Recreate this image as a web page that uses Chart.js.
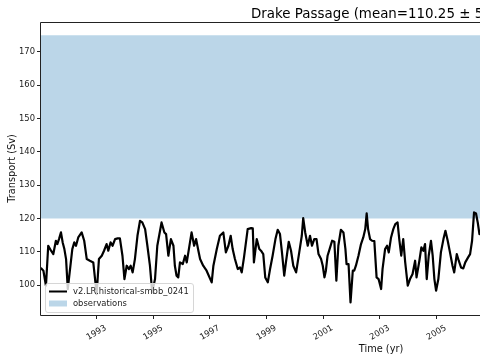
<!DOCTYPE html>
<html>
<head>
<meta charset="utf-8">
<script src="https://cdn.jsdelivr.net/npm/chart.js@4.4.0/dist/chart.umd.min.js"></script>
<style>
html,body{margin:0;padding:0;background:#fff;overflow:hidden;}
canvas{display:block;}
</style>
</head>
<body>
<canvas id="c" width="480" height="360"></canvas>
<script>
// ---- data ----
const years = [1991.04,1991.12,1991.21,1991.29,1991.39,1991.47,1991.56,1991.61,1991.67,1991.74,1991.80,1991.86,1991.92,1991.98,
1992.06,1992.14,1992.21,1992.27,1992.35,1992.47,1992.56,1992.65,1992.76,1992.88,1993.00,1993.08,1993.18,1993.26,1993.35,1993.41,
1993.49,1993.56,1993.65,1993.74,1993.82,1993.91,1993.98,1994.06,1994.14,1994.20,1994.27,1994.35,1994.44,1994.53,1994.61,1994.71,
1994.79,1994.88,1994.96,1995.06,1995.14,1995.29,1995.39,1995.45,1995.53,1995.62,1995.71,1995.76,1995.82,1995.88,1995.94,1996.04,
1996.12,1996.18,1996.35,1996.44,1996.51,1996.59,1996.65,1996.76,1996.88,1997.06,1997.12,1997.24,1997.35,1997.47,1997.56,1997.65,
1997.73,1997.80,1997.88,1997.98,1998.06,1998.12,1998.20,1998.33,1998.45,1998.51,1998.55,1998.65,1998.74,1998.80,1998.88,1998.95,
1999.04,1999.12,1999.21,1999.31,1999.39,1999.47,1999.54,1999.62,1999.68,1999.78,1999.86,1999.94,2000.04,2000.15,2000.24,2000.29,
2000.36,2000.45,2000.53,2000.60,2000.68,2000.76,2000.83,2000.92,2000.98,2001.04,2001.09,2001.15,2001.24,2001.31,2001.39,2001.46,
2001.53,2001.62,2001.71,2001.78,2001.82,2001.89,2001.96,2002.04,2002.09,2002.15,2002.24,2002.33,2002.41,2002.48,2002.53,2002.58,
2002.65,2002.72,2002.80,2002.88,2002.95,2003.04,2003.09,2003.18,2003.25,2003.31,2003.39,2003.47,2003.54,2003.62,2003.68,2003.75,
2003.82,2003.89,2003.98,2004.06,2004.15,2004.24,2004.29,2004.39,2004.46,2004.53,2004.59,2004.65,2004.72,2004.80,2004.86,2004.92,
2004.98,2005.06,2005.15,2005.24,2005.31,2005.39,2005.47,2005.56,2005.62,2005.71,2005.78,2005.86,2005.94,2006.01,2006.11,2006.18,
2006.25,2006.32,2006.39,2006.45,2006.51];
const transport = [105.0,104.3,99.8,111.8,110.3,109.3,113.3,112.3,113.8,115.8,112.8,110.8,107.8,98.8,
104.8,110.8,112.8,111.8,114.3,115.8,113.3,107.8,107.3,106.8,97.3,107.8,108.8,110.3,112.3,110.3,
112.8,111.8,113.8,114.0,114.0,108.8,101.8,105.8,104.8,105.8,103.8,107.8,114.8,119.3,118.8,116.8,
111.8,105.8,97.8,101.8,111.8,118.8,115.8,115.3,108.8,113.8,111.8,105.8,102.8,102.3,106.8,106.3,
108.8,106.8,115.8,111.8,113.8,110.3,107.8,105.8,104.3,100.8,105.8,110.8,114.8,115.8,109.8,111.8,
114.8,110.8,107.8,104.8,105.3,103.8,108.3,116.8,117.1,117.0,106.8,113.8,110.8,110.3,109.3,102.3,
100.8,104.8,108.8,113.8,116.6,115.3,109.8,102.8,106.8,113.0,110.3,105.8,103.8,109.8,114.8,120.1,
115.8,111.8,114.8,111.8,113.8,113.8,109.3,107.8,105.8,102.3,104.3,108.8,111.3,113.3,113.0,101.3,
111.8,116.6,115.8,110.8,106.3,106.3,94.8,104.3,104.3,105.8,108.8,112.3,114.3,116.8,121.5,116.8,
113.8,113.3,113.2,102.3,101.8,98.8,104.8,110.8,111.8,109.8,114.3,116.8,118.3,118.8,113.8,108.8,
113.8,106.8,99.8,101.8,103.3,107.3,102.3,107.3,111.3,110.3,112.3,101.8,108.8,113.3,108.8,101.8,
98.3,101.8,109.8,113.8,116.3,113.3,109.8,105.8,103.8,109.3,107.3,105.3,105.0,106.8,108.3,109.3,
113.3,121.8,121.5,118.8,115.3];
const obsRange = [120, 175];
const xTicks = [1993, 1995, 1997, 1999, 2001, 2003, 2005];
const yTicks = [100, 110, 120, 130, 140, 150, 160, 170];
const xRange = [1991.035, 2006.53];
const yRange = [91, 179];
const titleText = 'Drake Passage (mean=110.25 \u00b1 5';
const seriesLabel = 'v2.LR.historical-smbb_0241';
const obsLabel = 'observations';

const FONT = 'DejaVu Sans';
const obsColor = 'rgba(31,119,180,0.3)';

const overlay = {
  id: 'overlay',
  afterDatasetsDraw(chart) {
    const {ctx, chartArea: a} = chart;
    ctx.save();
    // frame (left, top, bottom)
    ctx.strokeStyle = '#222';
    ctx.lineWidth = 1;
    ctx.beginPath();
    ctx.moveTo(chart.width + 5, a.top + 0.5);
    ctx.lineTo(a.left - 0.5, a.top + 0.5);
    ctx.lineTo(a.left - 0.5, a.bottom + 0.5);
    ctx.lineTo(chart.width + 5, a.bottom + 0.5);
    ctx.stroke();

    // legend
    const lx = 45.5, ly = 283.5, lw = 148, lh = 29, r = 2.5;
    ctx.beginPath();
    ctx.moveTo(lx + r, ly);
    ctx.lineTo(lx + lw - r, ly);
    ctx.quadraticCurveTo(lx + lw, ly, lx + lw, ly + r);
    ctx.lineTo(lx + lw, ly + lh - r);
    ctx.quadraticCurveTo(lx + lw, ly + lh, lx + lw - r, ly + lh);
    ctx.lineTo(lx + r, ly + lh);
    ctx.quadraticCurveTo(lx, ly + lh, lx, ly + lh - r);
    ctx.lineTo(lx, ly + r);
    ctx.quadraticCurveTo(lx, ly, lx + r, ly);
    ctx.closePath();
    ctx.fillStyle = 'rgba(255,255,255,0.8)';
    ctx.fill();
    ctx.strokeStyle = '#d6d6d6';
    ctx.stroke();

    ctx.strokeStyle = '#000';
    ctx.lineWidth = 2;
    ctx.beginPath();
    ctx.moveTo(49, 291.5);
    ctx.lineTo(67, 291.5);
    ctx.stroke();
    ctx.fillStyle = obsColor;
    ctx.fillRect(49, 300.5, 18, 6);

    ctx.fillStyle = '#222';
    ctx.font = '8.4px "' + FONT + '"';
    ctx.textBaseline = 'middle';
    ctx.textAlign = 'left';
    ctx.fillText(seriesLabel, 73, 291.5);
    ctx.fillText(obsLabel, 73, 303.5);

    // title
    ctx.fillStyle = '#000';
    ctx.font = '13.4px "' + FONT + '"';
    ctx.textBaseline = 'alphabetic';
    ctx.fillText(titleText, 251, 17.5);

    // axis titles
    ctx.fillStyle = '#111';
    ctx.font = '9.8px "' + FONT + '"';
    ctx.textAlign = 'center';
    ctx.fillText('Time (yr)', 381, 352);
    ctx.save();
    ctx.translate(15, (a.top + a.bottom) / 2);
    ctx.rotate(-Math.PI / 2);
    ctx.fillText('Transport (Sv)', 0, 0);
    ctx.restore();
    ctx.restore();
  }
};

const lineData = years.map((t, i) => ({x: t, y: transport[i]}));
const obsData = [{x: xRange[0], y: obsRange[1]}, {x: xRange[1], y: obsRange[1]}];

new Chart(document.getElementById('c'), {
  type: 'line',
  data: {
    datasets: [
      {
        label: seriesLabel,
        data: lineData,
        borderColor: '#000',
        borderWidth: 2.2,
        pointRadius: 0,
        tension: 0,
        fill: false,
        borderJoinStyle: 'round',
        borderCapStyle: 'round',
        order: 0
      },
      {
        label: obsLabel,
        data: obsData,
        borderWidth: 0,
        borderColor: 'rgba(0,0,0,0)',
        backgroundColor: obsColor,
        pointRadius: 0,
        fill: {value: obsRange[0]},
        order: 1
      }
    ]
  },
  options: {
    responsive: false,
    animation: false,
    devicePixelRatio: 1,
    layout: {padding: {top: 22, left: 0, right: 0, bottom: 0}},
    plugins: {legend: {display: false}, title: {display: false}, tooltip: {enabled: false}},
    scales: {
      x: {
        type: 'linear',
        min: xRange[0],
        max: xRange[1],
        afterBuildTicks: s => { s.ticks = xTicks.map(v => ({value: v})); },
        afterFit: s => { s.height = 45; s.paddingLeft = 0; s.paddingRight = 0; },
        ticks: {
          autoSkip: false,
          minRotation: 30,
          maxRotation: 30,
          labelOffset: 9,
          padding: 4,
          color: '#222',
          font: {family: FONT, size: 8.4},
          callback: v => String(v)
        },
        grid: {drawOnChartArea: false, drawTicks: true, tickLength: 4, tickColor: '#222', tickWidth: 1},
        border: {display: false}
      },
      y: {
        min: yRange[0],
        max: yRange[1],
        afterBuildTicks: s => { s.ticks = yTicks.map(v => ({value: v})); },
        afterFit: s => { s.width = 41; s.paddingTop = 0; s.paddingBottom = 0; },
        ticks: {
          padding: 2,
          color: '#222',
          font: {family: FONT, size: 8.4},
          callback: v => String(v)
        },
        grid: {drawOnChartArea: false, drawTicks: true, tickLength: 4, tickColor: '#222', tickWidth: 1},
        border: {display: false}
      }
    }
  },
  plugins: [overlay]
});
</script>
</body>
</html>
